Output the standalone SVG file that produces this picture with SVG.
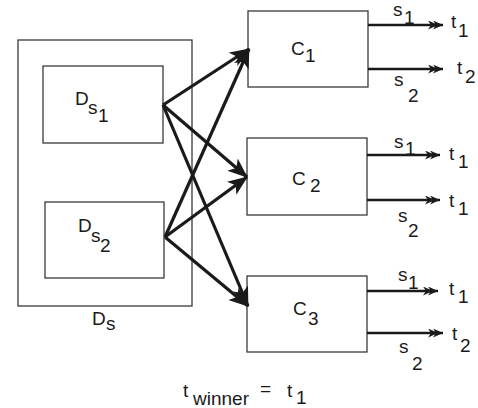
<svg xmlns="http://www.w3.org/2000/svg" width="478" height="408" viewBox="0 0 478 408">
<style>
.box{fill:#fff;stroke:#3a3a3a;stroke-width:1.3}
.t{font-family:"Liberation Sans",Arial,sans-serif;font-size:19px;fill:#1a1a1a}
.big{stroke:#1a1a1a;stroke-width:3.2;fill:none}
.out{stroke:#1a1a1a;stroke-width:2.4;fill:none}
</style>
<defs>
<marker id="ah" viewBox="0 0 20 16" refX="19" refY="8" markerWidth="20" markerHeight="16" markerUnits="userSpaceOnUse" orient="auto">
<path d="M0,0 L20,8 L0,16 L5,8 z" fill="#1a1a1a"/>
</marker>
<marker id="dh" viewBox="0 0 15 9" refX="15" refY="4.5" markerWidth="15" markerHeight="9" markerUnits="userSpaceOnUse" orient="auto">
<path d="M5,0 L15,4.5 L5,9 L8,4.5 z M0,0 L10,4.5 L0,9 L3,4.5 z" fill="#1a1a1a"/>
</marker>
</defs>
<rect width="478" height="408" fill="#fff"/>
<g id="Ds">
<rect class="box" x="18" y="40" width="174" height="266"/>
<text class="t" x="92" y="325" font-size="17">D</text>
<text class="t" x="106" y="330" font-size="17">s</text>
</g>
<g id="Ds1">
<rect class="box" x="43" y="66" width="120" height="77"/>
<text class="t" x="75" y="105">D</text>
<text class="t" x="88" y="114">s</text>
<text class="t" x="98" y="122">1</text>
</g>
<g id="Ds2">
<rect class="box" x="45" y="202" width="119" height="76"/>
<text class="t" x="78" y="232">D</text>
<text class="t" x="91" y="242">s</text>
<text class="t" x="100" y="252">2</text>
</g>
<g id="C1">
<rect class="box" x="248" y="11" width="120" height="76"/>
<text class="t" x="291" y="55">C</text>
<text class="t" x="305" y="62">1</text>
</g>
<g id="C2">
<rect class="box" x="247" y="138" width="120" height="77"/>
<text class="t" x="292" y="185">C</text>
<text class="t" x="310" y="192">2</text>
</g>
<g id="C3">
<rect class="box" x="247" y="276" width="120" height="76"/>
<text class="t" x="293" y="315">C</text>
<text class="t" x="308" y="325">3</text>
</g>
<g id="connectors">
<line class="big" x1="163" y1="105" x2="249" y2="49" marker-end="url(#ah)"/>
<line class="big" x1="163" y1="105" x2="247" y2="177" marker-end="url(#ah)"/>
<line class="big" x1="163" y1="105" x2="248" y2="306" marker-end="url(#ah)"/>
<line class="big" x1="165" y1="237" x2="249" y2="49" marker-end="url(#ah)"/>
<line class="big" x1="165" y1="237" x2="247" y2="177" marker-end="url(#ah)"/>
<line class="big" x1="165" y1="237" x2="248" y2="306" marker-end="url(#ah)"/>
<line class="out" x1="368" y1="25" x2="443" y2="25" marker-end="url(#dh)"/>
<line class="out" x1="368" y1="69" x2="443" y2="69" marker-end="url(#dh)"/>
<line class="out" x1="367" y1="155" x2="440" y2="155" marker-end="url(#dh)"/>
<line class="out" x1="367" y1="200" x2="440" y2="200" marker-end="url(#dh)"/>
<line class="out" x1="367" y1="291" x2="438" y2="291" marker-end="url(#dh)"/>
<line class="out" x1="367" y1="333" x2="443" y2="333" marker-end="url(#dh)"/>
</g>
<g id="labels">
<text class="t" x="393" y="16">s</text><text class="t" x="404" y="24">1</text>
<text class="t" x="451" y="28">t</text><text class="t" x="458" y="37">1</text>
<text class="t" x="394" y="86">s</text><text class="t" x="408" y="102">2</text>
<text class="t" x="457" y="74">t</text><text class="t" x="465" y="83">2</text>

<text class="t" x="394" y="148">s</text><text class="t" x="405" y="155">1</text>
<text class="t" x="449" y="160">t</text><text class="t" x="458" y="168">1</text>
<text class="t" x="398" y="222">s</text><text class="t" x="408" y="237">2</text>
<text class="t" x="449" y="207">t</text><text class="t" x="458" y="215">1</text>

<text class="t" x="398" y="281">s</text><text class="t" x="408" y="289">1</text>
<text class="t" x="449" y="295">t</text><text class="t" x="458" y="303">1</text>
<text class="t" x="399" y="353">s</text><text class="t" x="412" y="370">2</text>
<text class="t" x="452" y="340">t</text><text class="t" x="460" y="352">2</text>

<text class="t" x="183" y="397">t</text>
<text class="t" x="193" y="405">winner</text>
<text class="t" x="260" y="395">=</text>
<text class="t" x="287" y="397">t</text>
<text class="t" x="296" y="404">1</text>
</g>
</svg>
